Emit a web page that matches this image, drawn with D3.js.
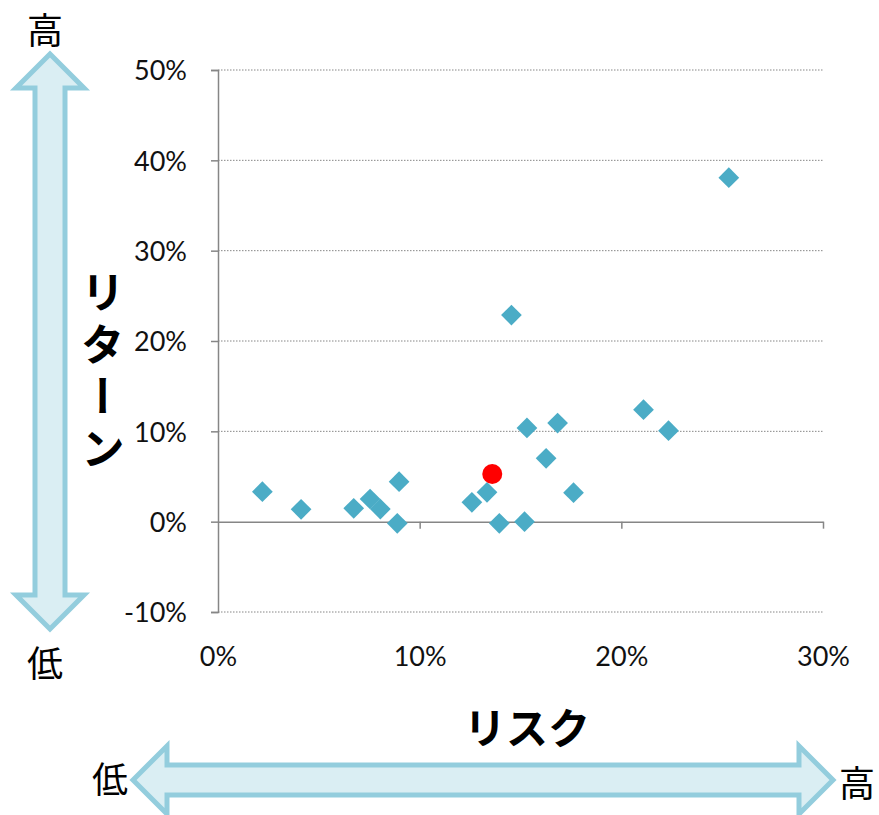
<!DOCTYPE html>
<html>
<head>
<meta charset="utf-8">
<script src="https://cdn.jsdelivr.net/npm/d3@7"></script>
<style>
  html, body { margin: 0; padding: 0; background: #fff; }
  svg { display: block; }
</style>
</head>
<body>
<svg id="chart" width="879" height="815"></svg>
<script>
// Risk (x) and return (y) of each fund, as fractions
const fundRisk   = [0.0220, 0.0412, 0.0673, 0.0754, 0.0805, 0.0898, 0.0889, 0.1259, 0.1334, 0.1395, 0.1520, 0.1532, 0.1684, 0.1627, 0.1763, 0.2110, 0.2234, 0.1455, 0.2533];
const fundReturn = [0.0332, 0.0137, 0.0148, 0.0251, 0.0140, 0.0443, -0.0018, 0.0214, 0.0325, -0.0018, 0.0000, 0.1037, 0.1092, 0.0701, 0.0321, 0.1240, 0.1007, 0.2287, 0.3808];
// Highlighted portfolio
const highlightRisk = [0.1360];
const highlightReturn = [0.0528];

const xTicks = [0, 0.10, 0.20, 0.30];
const yTicks = [-0.10, 0, 0.10, 0.20, 0.30, 0.40, 0.50];
const xTitle = "リスク";
const yTitle = "リターン";
const highLabel = "高";
const lowLabel = "低";

const svg = d3.select("#chart");
const x = d3.scaleLinear().domain([0, 0.30]).range([218, 823]);
const y = d3.scaleLinear().domain([-0.10, 0.50]).range([612, 70]);
const pct = d3.formatLocale({ decimal: ".", thousands: ",", grouping: [3], currency: ["", ""], minus: "-" }).format(".0%");
const axisColor = "#868686";
const tickFont = "Lato, 'Open Sans', sans-serif";
const jpFont = "'Noto Sans CJK JP', sans-serif";

// Dotted horizontal gridlines
svg.append("g").selectAll("line")
  .data(yTicks.filter(d => d !== 0))
  .join("line")
  .attr("x1", x(0)).attr("x2", x(0.30))
  .attr("y1", d => y(d)).attr("y2", d => y(d))
  .attr("stroke", axisColor).attr("stroke-width", 1)
  .attr("stroke-dasharray", "1.5,1.5");

// Y axis (left)
const yAxis = svg.append("g")
  .attr("transform", `translate(${x(0)},0)`)
  .call(d3.axisLeft(y).tickValues(yTicks).tickFormat(pct).tickSize(7).tickPadding(24));
yAxis.select(".domain").attr("stroke", axisColor).attr("stroke-width", 1.5);
yAxis.selectAll(".tick line").attr("stroke", axisColor).attr("stroke-width", 1.5);
yAxis.selectAll(".tick text")
  .attr("font-family", tickFont).attr("font-size", 27).attr("fill", "#111")
  .attr("dy", "0.36em");

// X axis drawn along the zero-return line
const xAxis = svg.append("g")
  .attr("transform", `translate(0,${y(0)})`)
  .call(d3.axisBottom(x).tickValues(xTicks).tickFormat(pct).tickSize(7).tickSizeOuter(0));
xAxis.select(".domain").attr("stroke", axisColor).attr("stroke-width", 1.5);
xAxis.selectAll(".tick line").attr("stroke", axisColor).attr("stroke-width", 1.5)
  .attr("opacity", d => d === 0 ? 0 : 1);
xAxis.selectAll(".tick text")
  .attr("font-family", tickFont).attr("font-size", 27).attr("fill", "#111")
  .attr("y", 0).attr("dy", 0)
  .attr("transform", `translate(0,${y(-0.10) - y(0) + 54})`);

// Fund markers (diamonds)
const funds = fundRisk.map((r, i) => ({ risk: r, ret: fundReturn[i] }));
svg.append("g").selectAll("path")
  .data(funds)
  .join("path")
  .attr("d", d3.symbol(d3.symbolSquare, 215))
  .attr("transform", d => `translate(${x(d.risk)},${y(d.ret)}) rotate(45)`)
  .attr("fill", "#4BACC6");

// Highlighted portfolio (red circle)
svg.append("g").selectAll("circle")
  .data(highlightRisk.map((r, i) => ({ risk: r, ret: highlightReturn[i] })))
  .join("circle")
  .attr("cx", d => x(d.risk)).attr("cy", d => y(d.ret))
  .attr("r", 10).attr("fill", "#FF0000");

// Double-headed arrows
const arrowFill = "#DAEEF3", arrowStroke = "#93CDDD";
function vArrow(cx, top, bottom, shaftHalf, headHalf, headLen) {
  const p = [
    [cx, top], [cx + headHalf, top + headLen], [cx + shaftHalf, top + headLen],
    [cx + shaftHalf, bottom - headLen], [cx + headHalf, bottom - headLen], [cx, bottom],
    [cx - headHalf, bottom - headLen], [cx - shaftHalf, bottom - headLen],
    [cx - shaftHalf, top + headLen], [cx - headHalf, top + headLen]
  ];
  return "M" + p.map(d => d.join(",")).join("L") + "Z";
}
function hArrow(cy, left, right, shaftHalf, headHalf, headLen) {
  const p = [
    [left, cy], [left + headLen, cy - headHalf], [left + headLen, cy - shaftHalf],
    [right - headLen, cy - shaftHalf], [right - headLen, cy - headHalf], [right, cy],
    [right - headLen, cy + headHalf], [right - headLen, cy + shaftHalf],
    [left + headLen, cy + shaftHalf], [left + headLen, cy + headHalf]
  ];
  return "M" + p.map(d => d.join(",")).join("L") + "Z";
}
svg.append("path")
  .attr("d", vArrow(50, 54, 629, 15, 34, 34))
  .attr("fill", arrowFill).attr("stroke", arrowStroke).attr("stroke-width", 5)
  .attr("stroke-linejoin", "miter");
svg.append("path")
  .attr("d", hArrow(780, 133, 833, 15, 34, 34))
  .attr("fill", arrowFill).attr("stroke", arrowStroke).attr("stroke-width", 5)
  .attr("stroke-linejoin", "miter");

// High / low labels at the arrow ends
const endLabels = [
  { t: highLabel, x: 45, y: 44 },
  { t: lowLabel, x: 45, y: 677 },
  { t: lowLabel, x: 110, y: 793 },
  { t: highLabel, x: 857, y: 797 }
];
svg.append("g").selectAll("text")
  .data(endLabels)
  .join("text")
  .attr("x", d => d.x).attr("y", d => d.y)
  .attr("text-anchor", "middle")
  .attr("font-family", jpFont).attr("font-size", 36).attr("fill", "#000")
  .text(d => d.t);

// Axis titles
svg.append("text")
  .attr("x", 527).attr("y", 744)
  .attr("text-anchor", "middle")
  .attr("font-family", jpFont).attr("font-size", 42).attr("font-weight", "bold")
  .text(xTitle);
svg.append("text")
  .attr("x", 103).attr("y", 270)
  .attr("font-family", jpFont).attr("font-size", 44).attr("font-weight", "bold")
  .attr("letter-spacing", 8)
  .style("writing-mode", "vertical-rl")
  .text(yTitle);
</script>
</body>
</html>
